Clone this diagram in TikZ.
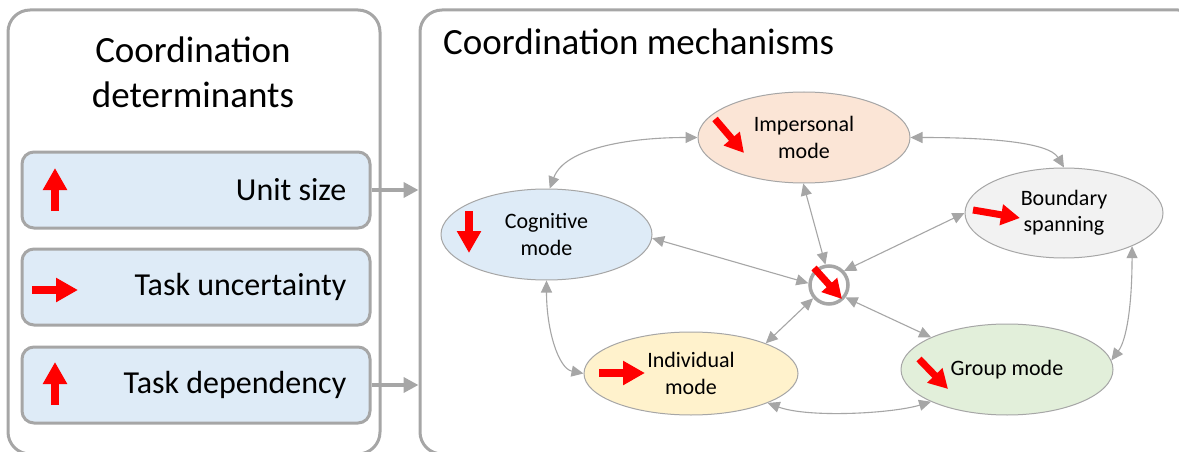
\documentclass[tikz,border=0pt]{standalone}
\usepackage{fontspec}
\setmainfont{Carlito}
\usetikzlibrary{arrows.meta,shapes.geometric}

\definecolor{framegray}{HTML}{A6A6A6}
\definecolor{linkgray}{HTML}{A6A6A6}
\definecolor{boxblue}{HTML}{DEEBF7}
\definecolor{cogfill}{HTML}{DEEBF7}
\definecolor{impfill}{HTML}{FBE5D6}
\definecolor{bndfill}{HTML}{F2F2F2}
\definecolor{indfill}{HTML}{FFF2CC}
\definecolor{grpfill}{HTML}{E2EFDA}

\tikzset{
  panel/.style={draw=framegray, line width=3pt, rounded corners=22pt, fill=white, inner sep=0},
  detbox/.style={draw=framegray, line width=3pt, rounded corners=12pt, fill=boxblue,
    minimum width=348pt, minimum height=76pt, inner sep=0},
  dettext/.style={anchor=east, inner sep=0, font=\fontsize{32}{38}\selectfont},
  feed/.style={draw=framegray, line width=4pt, -{Triangle[length=15pt,width=15pt]}},
  mode/.style={ellipse, draw=framegray, line width=1pt, inner sep=0, align=center,
    font=\fontsize{22}{26.5}\selectfont},
  link/.style={draw=linkgray, line width=1.1pt,
    {Triangle[length=12pt,width=11pt]}-{Triangle[length=12pt,width=11pt]}},
  redarr/.style={draw=red, line width=8pt, -{Triangle[length=22pt,width=23pt]}},
  redsmall/.style={draw=red, line width=7pt, -{Triangle[length=19pt,width=20pt]}},
}

\begin{document}
\begin{tikzpicture}[x=1pt,y=-1pt]
\useasboundingbox (0,0) rectangle (1179,452);

% panels
\node[panel, minimum width=372pt, minimum height=444pt] (det) at (194,232) {};
\node[panel, minimum width=780pt, minimum height=444pt] (mech) at (810,232) {};

\node[align=center, inner sep=0, font=\fontsize{37}{45}\selectfont] (dettitle) at (193,72)
  {Coordination\\determinants};
\node[anchor=base west, inner sep=0, font=\fontsize{37}{42}\selectfont] (mechtitle) at (443,55)
  {Coordination mechanisms};

% determinant boxes
\node[detbox] (unit) at (196,190) {};
\node[detbox] (unc) at (196,287) {};
\node[detbox] (dep) at (196,385) {};
\node[dettext] (unitlbl) at ([xshift=-25pt]unit.east) {Unit size};
\node[dettext] (unclbl) at ([xshift=-25pt]unc.east) {Task uncertainty};
\node[dettext] (deplbl) at ([xshift=-25pt]dep.east) {Task dependency};

\draw[redarr] (55,211) -- (55,168);
\draw[redarr] (32,290) -- (78,290);
\draw[redarr] (55,405) -- (55,362);

\draw[feed] (unit.east) -- (unit.east -| mech.west);
\draw[feed] (dep.east) -- (dep.east -| mech.west);

% mechanism modes
\node[mode, fill=impfill, minimum width=212pt, minimum height=91pt] (imp) at (804,137.5) {Impersonal\\mode};
\node[mode, fill=cogfill, minimum width=211pt, minimum height=91pt] (cog) at (546.5,234.5) {Cognitive\\mode};
\node[mode, fill=bndfill, minimum width=198pt, minimum height=90pt] (bnd) at (1064,213) {Boundary\\spanning};
\node[mode, fill=indfill, minimum width=214pt, minimum height=83pt] (ind) at (691,373.5) {Individual\\mode};
\node[mode, fill=grpfill, minimum width=212pt, minimum height=91pt] (grp) at (1007,369.5) {Group mode};
\node[circle, draw=framegray, line width=3.5pt, fill=white, minimum size=38pt, inner sep=0] (hub) at (829,285) {};

% links between modes
\draw[link] (cog.86) .. controls +(15,-40) and +(-70,0) .. (imp.180);
\draw[link] (imp.0) .. controls +(80,0) and +(-15,-25) .. (bnd.north);
\draw[link] (cog.south) .. controls +(0,50) and +(-25,-5) .. (ind.180);
\draw[link] (ind.-21) .. controls +(40,15) and +(-40,12) .. (grp.203);
\draw[link] (bnd.-26) .. controls +(0,60) and +(15,-20) .. (grp.5);
\draw[link] (imp.-91) -- (hub.100);
\draw[link] (bnd.180) -- (hub.43);
\draw[link] (cog.-2) -- (hub.175);
\draw[link] (ind.22) -- (hub.220);
\draw[link] (grp.157) -- (hub.-37);

% direction markers inside the modes
\draw[redarr] (469,211) -- (469,253);
\draw[redsmall] (715,119) -- (744,153);
\draw[redsmall] (973,210) -- (1020,218);
\draw[redarr] (599,373) -- (645,373);
\draw[redsmall] (919,359) -- (948,389);
\draw[redsmall] (814,268) -- (842,299);
\end{tikzpicture}
\end{document}
